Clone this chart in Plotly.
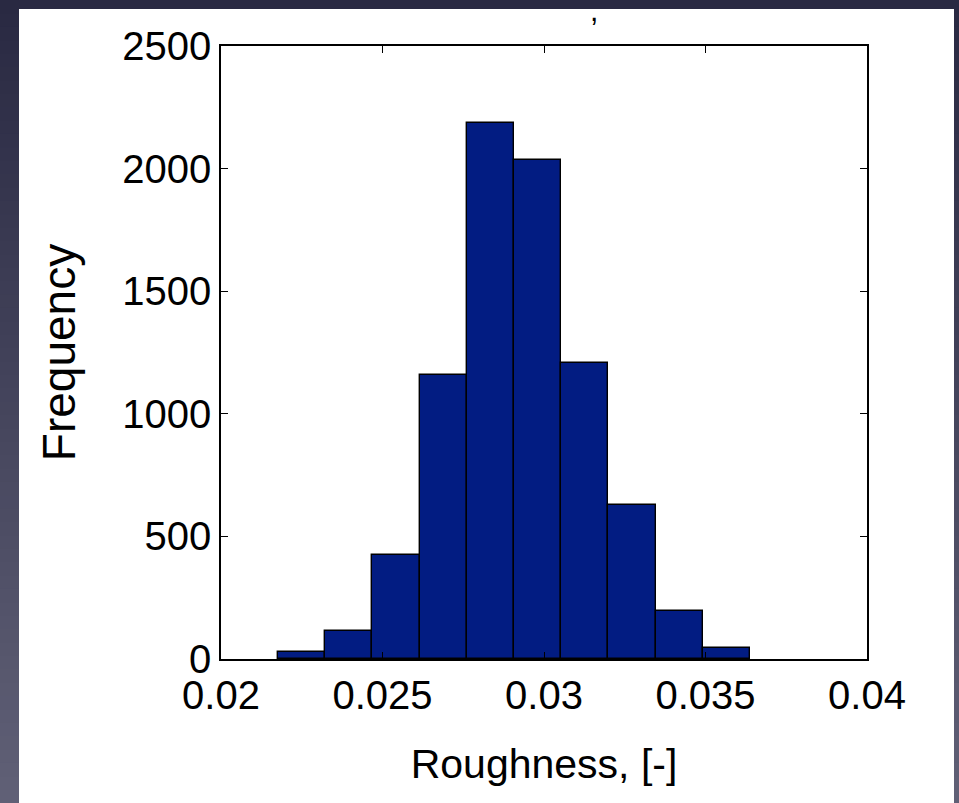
import plotly.graph_objects as go

# Data
bin_start = 0.021765
bin_width = 0.0014613
counts = [28, 114, 424, 1160, 2186, 2035, 1208, 628, 197, 45]
x_ticks = [0.02, 0.025, 0.03, 0.035, 0.04]
x_tick_labels = ["0.02", "0.025", "0.03", "0.035", "0.04"]
y_ticks = [0, 500, 1000, 1500, 2000, 2500]
y_tick_labels = ["0", "500", "1000", "1500", "2000", "2500"]

centers = [bin_start + bin_width * (i + 0.5) for i in range(len(counts))]

W, H = 959, 803
L, R, T, B = 221, 92, 46, 144
pw, ph = W - L - R, H - T - B

def px2paper_x(px):
    return (px - L) / pw

def px2paper_y(py):
    return (H - B - py) / ph

fig = go.Figure()
fig.add_trace(go.Bar(
    x=centers, y=counts, width=[bin_width] * len(counts),
    marker=dict(color="#021c82", line=dict(color="black", width=1.4)),
    showlegend=False,
))

shapes = []
# background gradient stripes
n = 60
top_c = (0x29, 0x29, 0x42)
bot_c = (0x60, 0x60, 0x76)
for i in range(n):
    t = i / (n - 1)
    c = tuple(int(round(top_c[k] + (bot_c[k] - top_c[k]) * t)) for k in range(3))
    y0 = i * H / n
    y1 = (i + 1) * H / n + 1
    shapes.append(dict(type="rect", xref="paper", yref="paper",
                       x0=px2paper_x(-5), x1=px2paper_x(W + 5),
                       y0=px2paper_y(y1), y1=px2paper_y(y0),
                       fillcolor="rgb(%d,%d,%d)" % c, line=dict(width=0), layer="below"))
# white panel
shapes.append(dict(type="rect", xref="paper", yref="paper",
                   x0=px2paper_x(19), x1=px2paper_x(954),
                   y0=px2paper_y(H + 10), y1=px2paper_y(9),
                   fillcolor="white", line=dict(width=0), layer="below"))

fig.update_layout(
    width=W, height=H,
    margin=dict(l=L, r=R, t=T, b=B, pad=0),
    paper_bgcolor="#2a2a44",
    plot_bgcolor="white",
    shapes=shapes,
    font=dict(family="Liberation Sans, Arial, sans-serif", color="black", size=40),
    bargap=0,
    annotations=[dict(text=",", xref="paper", yref="paper",
                      x=px2paper_x(594), y=px2paper_y(10), xanchor="center", yanchor="middle",
                      showarrow=False, font=dict(size=30, color="black"))],
)
fig.update_xaxes(
    range=[0.02, 0.04], tickvals=x_ticks, ticktext=x_tick_labels,
    ticks="inside", ticklen=7, tickcolor="black", tickwidth=1,
    showline=True, linecolor="black", linewidth=1.5, mirror="ticks",
    showgrid=False, zeroline=False,
    tickfont=dict(size=40),
    title=dict(text="Roughness, [-]", font=dict(size=41), standoff=34),
)
fig.update_yaxes(
    range=[0, 2500], tickvals=y_ticks, ticktext=y_tick_labels,
    ticks="inside", ticklen=7, tickcolor="black", tickwidth=1,
    showline=True, linecolor="black", linewidth=1.5, mirror="ticks",
    showgrid=False, zeroline=False,
    tickfont=dict(size=40),
    title=dict(text="Frequency", font=dict(size=46), standoff=32),
)

fig.write_html("out.html")
